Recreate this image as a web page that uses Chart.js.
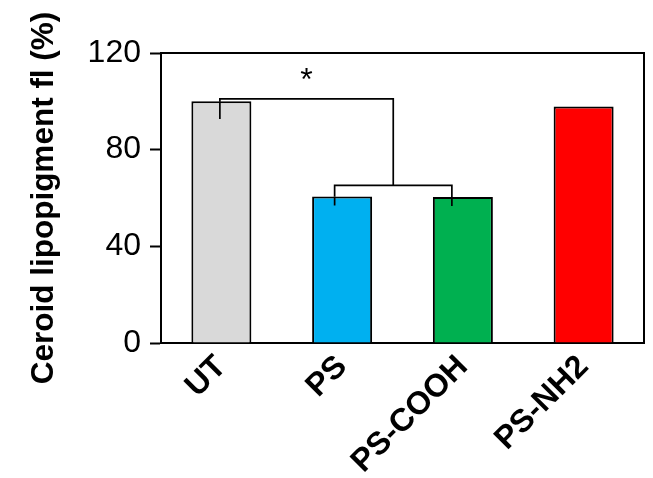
<!DOCTYPE html>
<html lang="en">
<head>
  <meta charset="UTF-8">
  <title>Ceroid lipopigment</title>
  <script src="https://cdn.jsdelivr.net/npm/chart.js"></script>
  <style>
    html, body { margin: 0; padding: 0; background: #fff; }
    #wrap { width: 653px; height: 478px; }
  </style>
</head>
<body>
  <div id="wrap"><canvas id="chart" width="653" height="478"></canvas></div>

  <script>
    const categories = ['UT', 'PS', 'PS-COOH', 'PS-NH2'];
    const values = [100, 60.6, 60.4, 97.9];
    const errors = [7.3, 3.7, 3.7, 0];
    const barColors = ['#d9d9d9', '#00b0f0', '#00b050', '#ff0000'];
    const yTicks = [0, 40, 80, 120];

    // significance brackets (y units)
    const innerPair = [1, 2];
    const innerLevel = 65.2;
    const outerFrom = 0;
    const outerLevel = 101;
    const starLevel = 104.5;

    const FONT = "'Liberation Sans', Arial, sans-serif";

    const marks = {
      id: 'marks',
      afterDatasetsDraw(chart) {
        const { ctx, chartArea: a, scales: { x, y } } = chart;
        ctx.save();
        ctx.strokeStyle = '#000';

        // box top + right
        ctx.lineWidth = 2;
        ctx.beginPath();
        ctx.moveTo(a.left, a.top);
        ctx.lineTo(a.right, a.top);
        ctx.lineTo(a.right, a.bottom);
        ctx.stroke();

        // lines sit a bit left of bar centre in the original
        const shift = [-1.5, -7.5, -11, 0];
        const cx = i => x.getPixelForValue(i) + shift[i];

        ctx.lineWidth = 1.7;
        // error bars, lower half only
        values.forEach((v, i) => {
          if (!errors[i]) return;
          ctx.beginPath();
          ctx.moveTo(cx(i), y.getPixelForValue(v));
          ctx.lineTo(cx(i), y.getPixelForValue(v - errors[i]));
          ctx.stroke();
        });

        // inner bracket PS / PS-COOH
        const [p, q] = innerPair;
        const yi = y.getPixelForValue(innerLevel);
        ctx.beginPath();
        ctx.moveTo(cx(p), y.getPixelForValue(values[p]));
        ctx.lineTo(cx(p), yi);
        ctx.lineTo(cx(q), yi);
        ctx.lineTo(cx(q), y.getPixelForValue(values[q]));
        ctx.stroke();

        // outer bracket UT -> middle of inner one
        const mid = (cx(p) + cx(q)) / 2;
        const yo = y.getPixelForValue(outerLevel);
        ctx.beginPath();
        ctx.moveTo(cx(outerFrom), y.getPixelForValue(values[outerFrom]));
        ctx.lineTo(cx(outerFrom), yo);
        ctx.lineTo(mid, yo);
        ctx.lineTo(mid, yi);
        ctx.stroke();

        // asterisk
        ctx.fillStyle = '#000';
        ctx.font = '32px ' + FONT;
        ctx.textAlign = 'center';
        ctx.textBaseline = 'alphabetic';
        ctx.fillText('*', (cx(outerFrom) + mid) / 2, y.getPixelForValue(starLevel));
        ctx.restore();
      }
    };

    new Chart(document.getElementById('chart'), {
      type: 'bar',
      data: {
        labels: categories,
        datasets: [{
          data: values,
          backgroundColor: barColors,
          borderColor: '#000',
          borderWidth: 2,
          barPercentage: 1,
          categoryPercentage: 0.497
        }]
      },
      options: {
        responsive: false,
        animation: false,
        layout: { padding: { top: 53, right: 9, left: 0, bottom: 0 } },
        plugins: { legend: { display: false }, tooltip: { enabled: false } },
        scales: {
          x: {
            grid: { display: false, drawTicks: false },
            border: { display: true, color: '#000', width: 2 },
            ticks: {
              color: '#000',
              font: { family: FONT, size: 32, weight: 'bold' },
              minRotation: 45,
              maxRotation: 45,
              padding: 5
            },
            afterFit: s => { s.height = 135; }
          },
          y: {
            min: 0,
            max: 120,
            afterBuildTicks: s => { s.ticks = yTicks.map(v => ({ value: v })); },
            grid: { drawOnChartArea: false, drawTicks: true, tickLength: 11, tickColor: '#000', tickWidth: 2 },
            border: { display: true, color: '#000', width: 2 },
            ticks: {
              color: '#000',
              font: { family: FONT, size: 32 },
              padding: 9
            },
            title: {
              display: true,
              text: 'Ceroid lipopigment fl (%)',
              color: '#000',
              font: { family: FONT, size: 31.5, weight: 'bold' },
              padding: { top: 25, bottom: 0 }
            },
            afterFit: s => { s.width = 161; }
          }
        }
      },
      plugins: [marks]
    });
  </script>
</body>
</html>
